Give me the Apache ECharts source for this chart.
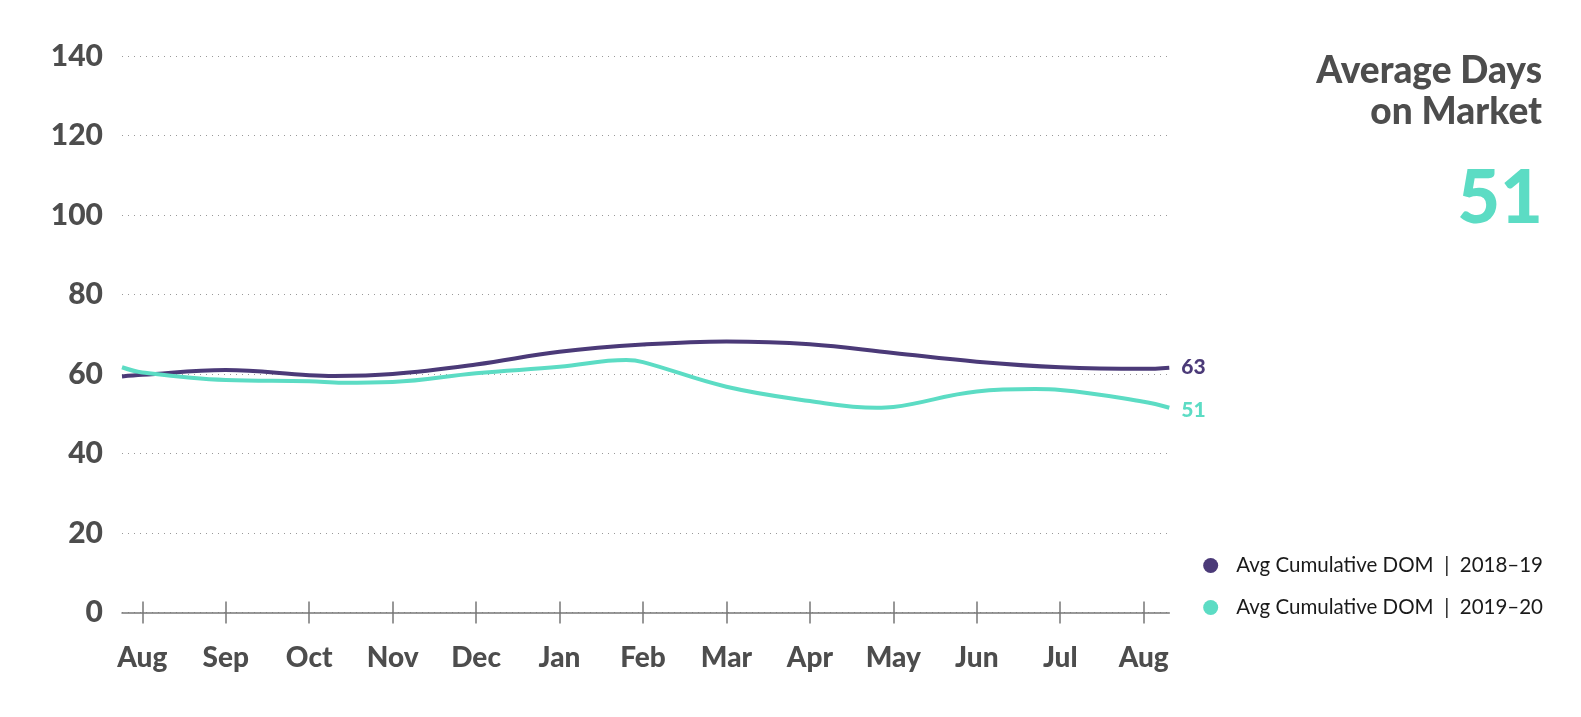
<!DOCTYPE html>
<html>
<head>
<meta charset="utf-8">
<script src="https://cdn.jsdelivr.net/npm/echarts@6/dist/echarts.min.js"></script>
<style>html,body{margin:0;padding:0;background:#fff;}#c{width:1581px;height:717px;}</style>
</head>
<body>
<div id="c"></div>
<script>
// Month tick labels (tick i = month index i)
const months = ['Aug','Sep','Oct','Nov','Dec','Jan','Feb','Mar','Apr','May','Jun','Jul','Aug'];
const tickValues = [0,1,2,3,4,5,6,7,8,9,10,11,12];
const yTicks = [0,20,40,60,80,100,120,140];

// Series points: [month position, days]
const dom1819 = [
  [-0.243,59.4],[0,59.8],[1,61.0],[2,59.7],[2.3,59.5],[3,60.0],[4,62.4],[5,65.6],[6,67.4],
  [7,68.2],[8,67.5],[9,65.3],[10,63.1],[11,61.7],[12,61.3],[12.307,61.6]
];
const dom1920 = [
  [-0.243,61.7],[0,60.4],[1,58.5],[2,58.2],[2.4,57.8],[3,58.0],[4,60.2],[5,61.8],[5.8,63.5],
  [6,63.0],[7,56.8],[8,53.2],[8.8,51.5],[9,51.7],[10,55.6],[10.7,56.2],[11,56.0],
  [12,53.0],[12.307,51.5]
];
const seriesNames = ['Avg Cumulative DOM  |  2018\u201319','Avg Cumulative DOM  |  2019\u201320'];
const endValues = ['63','51'];
const titleLines = ['Average Days','on Market'];
const headline = '51';

const purple = '#4b3a78';
const teal = '#5cdcc4';
const grey = '#4d4d4d';
const FONT = 'Lato, "Open Sans", sans-serif';

const chart = echarts.init(document.getElementById('c'));
const xBase = {
  type:'value', min:-0.243, max:12.307, gridIndex:0,
  splitLine:{show:false}
};
chart.setOption({
  animation:false,
  grid:{left:122, right:411.7, top:56, bottom:104.5},
  graphic:[{
    type:'text', x:1542, y:90,
    style:{text:titleLines[0], textAlign:'right', textVerticalAlign:'bottom',
      font:'900 37px ' + FONT, fill:grey}
  },{
    type:'text', x:1542, y:131,
    style:{text:titleLines[1], textAlign:'right', textVerticalAlign:'bottom',
      font:'900 37px ' + FONT, fill:grey}
  },{
    type:'text', x:1543, y:236,
    style:{text:headline, textAlign:'right', textVerticalAlign:'bottom',
      font:'900 74px ' + FONT, fill:teal}
  }],
  legend:{
    orient:'vertical', right:33, top:550, itemWidth:15, itemHeight:15, itemGap:21,
    icon:'circle',
    textStyle:{fontFamily:FONT, fontSize:20.5, color:'#1a1a1a', padding:[0,0,0,13]},
    data:seriesNames
  },
  xAxis:[Object.assign({}, xBase, {
    axisLine:{show:true, lineStyle:{color:'#777', width:1.5}},
    axisTick:{show:true, customValues:tickValues, length:11, lineStyle:{color:'#777', width:1.5}},
    axisLabel:{show:true, customValues:tickValues, margin:31,
      formatter:v=>months[Math.round(v)],
      fontFamily:FONT, fontSize:28, fontWeight:900, color:grey}
  }), Object.assign({}, xBase, {
    position:'bottom',
    axisLine:{show:false},
    axisTick:{show:true, inside:true, customValues:tickValues, length:11, lineStyle:{color:'#777', width:1.5}},
    axisLabel:{show:false}
  })],
  yAxis:{
    type:'value', min:yTicks[0], max:yTicks[yTicks.length-1], interval:20,
    axisLine:{show:false}, axisTick:{show:false},
    axisLabel:{margin:19, fontFamily:FONT, fontSize:30, fontWeight:900, color:grey},
    splitLine:{show:true, lineStyle:{color:'#999', width:1, type:[1,5]}}
  },
  series:[{
    name:seriesNames[0], type:'line', data:dom1819, smooth:0.4, symbol:'none',
    lineStyle:{color:purple, width:4}, itemStyle:{color:purple},
    endLabel:{show:true, formatter:()=>endValues[0], distance:12, offset:[0,0],
      fontFamily:FONT, fontSize:21, fontWeight:900, color:purple}
  },{
    name:seriesNames[1], type:'line', data:dom1920, smooth:0.4, symbol:'none',
    lineStyle:{color:teal, width:4}, itemStyle:{color:teal},
    endLabel:{show:true, formatter:()=>endValues[1], distance:12, offset:[0,2],
      fontFamily:FONT, fontSize:21, fontWeight:900, color:teal}
  }]
});
</script>
</body>
</html>
